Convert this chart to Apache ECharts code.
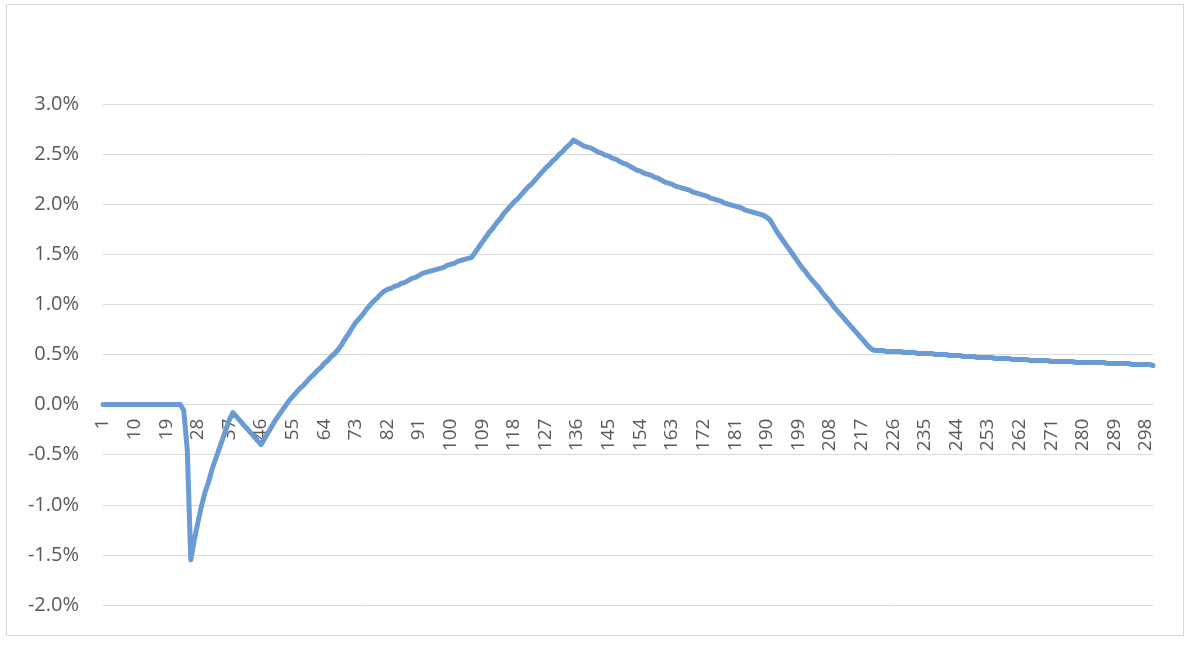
<!DOCTYPE html>
<html>
<head>
<meta charset="utf-8">
<script src="https://cdn.jsdelivr.net/npm/echarts@6/dist/echarts.min.js"></script>
<style>
  html, body { margin: 0; padding: 0; background: #ffffff; }
  #chart { width: 1190px; height: 648px; }
</style>
</head>
<body>
<div id="chart"></div>
<script>
// Category labels: periods 1..300
var categories = [];
for (var i = 1; i <= 300; i++) categories.push(String(i));

// Series values in percent (10 per row)
var values = [
  0,0,0,0,0,0,0,0,0,0,
  0,0,0,0,0,0,0,0,0,0,
  0,0,0,-0.06,-0.45,-1.55,-1.35,-1.18,-1.02,-0.88,
  -0.78,-0.65,-0.55,-0.45,-0.35,-0.25,-0.15,-0.08,-0.12,-0.16,
  -0.20,-0.24,-0.28,-0.32,-0.36,-0.40,-0.34,-0.28,-0.22,-0.16,
  -0.11,-0.06,-0.01,0.04,0.08,0.12,0.16,0.19,0.23,0.27,
  0.30,0.34,0.37,0.41,0.44,0.48,0.51,0.55,0.60,0.66,
  0.71,0.77,0.82,0.86,0.90,0.95,0.99,1.03,1.06,1.10,
  1.13,1.15,1.16,1.18,1.19,1.21,1.22,1.24,1.26,1.27,
  1.29,1.31,1.32,1.33,1.34,1.35,1.36,1.37,1.39,1.40,
  1.41,1.43,1.44,1.45,1.46,1.47,1.52,1.57,1.62,1.67,
  1.72,1.76,1.81,1.85,1.90,1.94,1.98,2.02,2.05,2.09,
  2.13,2.17,2.20,2.24,2.28,2.32,2.36,2.39,2.43,2.46,
  2.50,2.53,2.57,2.60,2.64,2.62,2.60,2.58,2.57,2.56,
  2.54,2.52,2.51,2.49,2.48,2.46,2.45,2.43,2.41,2.40,
  2.38,2.36,2.34,2.33,2.31,2.30,2.29,2.27,2.26,2.24,
  2.22,2.21,2.20,2.18,2.17,2.16,2.15,2.14,2.12,2.11,
  2.10,2.09,2.08,2.06,2.05,2.04,2.03,2.01,2.00,1.99,
  1.98,1.97,1.96,1.94,1.93,1.92,1.91,1.90,1.89,1.87,
  1.84,1.78,1.72,1.67,1.62,1.57,1.52,1.47,1.42,1.37,
  1.33,1.28,1.24,1.20,1.16,1.11,1.07,1.03,0.98,0.94,
  0.90,0.86,0.82,0.78,0.74,0.70,0.66,0.62,0.58,0.55,
  0.54,0.54,0.54,0.53,0.53,0.53,0.53,0.53,0.52,0.52,
  0.52,0.52,0.51,0.51,0.51,0.51,0.51,0.50,0.50,0.50,
  0.50,0.49,0.49,0.49,0.49,0.48,0.48,0.48,0.48,0.47,
  0.47,0.47,0.47,0.47,0.46,0.46,0.46,0.46,0.46,0.45,
  0.45,0.45,0.45,0.45,0.44,0.44,0.44,0.44,0.44,0.44,
  0.43,0.43,0.43,0.43,0.43,0.43,0.43,0.42,0.42,0.42,
  0.42,0.42,0.42,0.42,0.42,0.42,0.41,0.41,0.41,0.41,
  0.41,0.41,0.41,0.40,0.40,0.40,0.40,0.40,0.40,0.39
];

// Y axis ticks (percent)
var yMin = -2.0;
var yMax = 3.0;
var yStep = 0.5;

var chart = echarts.init(document.getElementById('chart'), null, { renderer: 'canvas' });
var font = '"Open Sans", "Liberation Sans", sans-serif';

var gridTop = 104, gridBottom = 43;
var plotH = 648 - gridTop - gridBottom;
// distance from bottom of plot up to the zero line
var zeroOffset = plotH * (0 - yMin) / (yMax - yMin);

chart.setOption({
  animation: false,
  backgroundColor: '#ffffff',
  graphic: [{
    type: 'rect',
    shape: { x: 6.5, y: 4.5, width: 1177, height: 631 },
    style: { fill: 'none', stroke: '#d9d9d9', lineWidth: 1 },
    silent: true
  }],
  grid: { left: 103, right: 37, top: gridTop, bottom: gridBottom, containLabel: false, outerBoundsMode: 'none' },
  xAxis: {
    type: 'category',
    data: categories,
    boundaryGap: false,
    offset: -zeroOffset,
    axisLine: { show: true, onZero: false, lineStyle: { color: '#d9d9d9', width: 1 } },
    axisTick: { show: false },
    splitLine: { show: false },
    axisLabel: {
      interval: 8,
      rotate: 90,
      margin: 14,
      color: '#595959',
      fontSize: 19,
      fontFamily: font
    }
  },
  yAxis: {
    type: 'value',
    min: yMin,
    max: yMax,
    interval: yStep,
    axisLine: { show: false },
    axisTick: { show: false },
    splitLine: { show: true, lineStyle: { color: '#d9d9d9', width: 1 } },
    axisLabel: {
      margin: 24,
      color: '#595959',
      fontSize: 20,
      fontFamily: font,
      formatter: function (v) { return v.toFixed(1) + '%'; }
    }
  },
  series: [{
    type: 'line',
    data: values,
    showSymbol: false,
    symbol: 'none',
    smooth: false,
    lineStyle: { color: '#6a9bd5', width: 5, cap: 'round', join: 'round' },
    z: 3
  }]
});
</script>
</body>
</html>
